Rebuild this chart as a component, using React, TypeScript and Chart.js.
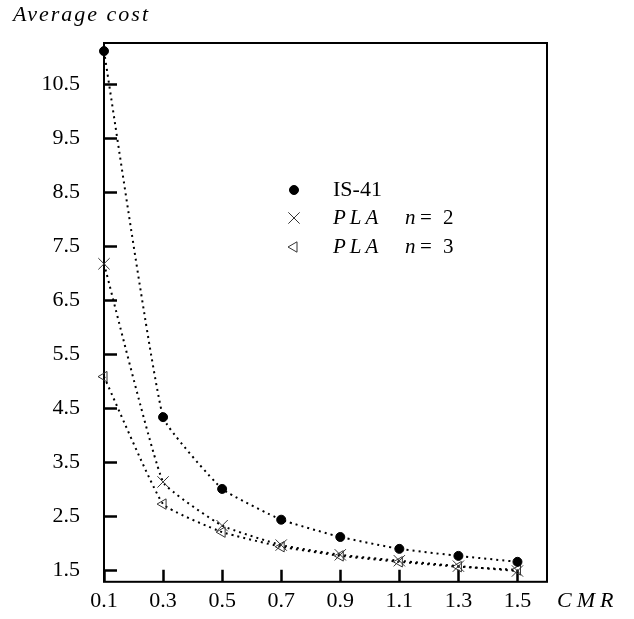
import React, { useEffect, useRef } from 'react';
import { Chart, registerables } from 'chart.js';
import { drawPoint } from 'chart.js/helpers';

Chart.register(...registerables);

const cmr = [0.1, 0.3, 0.5, 0.7, 0.9, 1.1, 1.3, 1.5];
const is41 = [11.11, 4.33, 3.0, 2.43, 2.11, 1.89, 1.76, 1.65];
const pla2 = [7.17, 3.13, 2.32, 1.96, 1.78, 1.67, 1.57, 1.48];
const pla3 = [5.08, 2.72, 2.2, 1.93, 1.76, 1.65, 1.56, 1.5];

const xTicks = [0.1, 0.3, 0.5, 0.7, 0.9, 1.1, 1.3, 1.5];
const xTickLabels = ['0.1', '0.3', '0.5', '0.7', '0.9', '1.1', '1.3', '1.5'];
const yTicks = [1.5, 2.5, 3.5, 4.5, 5.5, 6.5, 7.5, 8.5, 9.5, 10.5];
const yTickLabels = ['1.5', '2.5', '3.5', '4.5', '5.5', '6.5', '7.5', '8.5', '9.5', '10.5'];

const legendMain = ['IS-41', 'PLA', 'PLA'];
const legendN = ['', '2', '3'];
const yTitle = 'Average cost';
const xTitle = 'CMR';

const SERIF = '"Liberation Serif", "Times New Roman", serif';

const decorPlugin = {
  id: 'decor',
  beforeDatasetsDraw(chart: any) {
    const { ctx, chartArea: a, scales } = chart;
    ctx.save();
    ctx.strokeStyle = '#000';
    ctx.lineWidth = 2;
    ctx.strokeRect(a.left, a.top, a.right - a.left, a.bottom - a.top);
    ctx.lineWidth = 2.5;
    ctx.beginPath();
    yTicks.forEach((v) => {
      const y = Math.round(scales.y.getPixelForValue(v)) + 0.5;
      ctx.moveTo(a.left, y);
      ctx.lineTo(a.left + 13, y);
    });
    xTicks.forEach((v) => {
      const x = Math.round(scales.x.getPixelForValue(v)) + 0.5;
      ctx.moveTo(x, a.bottom);
      ctx.lineTo(x, a.bottom - 12);
    });
    ctx.stroke();
    ctx.restore();
  },
  afterDraw(chart: any) {
    const { ctx, chartArea: a } = chart;
    ctx.save();
    ctx.fillStyle = '#000';
    ctx.textBaseline = 'alphabetic';
    ctx.textAlign = 'left';
    // axis titles
    ctx.font = `italic 22px ${SERIF}`;
    (ctx as any).letterSpacing = '2px';
    ctx.fillText(yTitle, 13, 21);
    (ctx as any).letterSpacing = '5px';
    ctx.fillText(xTitle, a.right + 10, 607);
    (ctx as any).letterSpacing = '0px';

    // legend
    const mx = a.left + 190;
    const tx = a.left + 229;
    const baselines = [196, 224, 253];
    chart.data.datasets.forEach((ds: any, i: number) => {
      const by = baselines[i];
      ctx.save();
      ctx.fillStyle = ds.pointBackgroundColor;
      ctx.strokeStyle = ds.pointBorderColor;
      ctx.lineWidth = ds.pointBorderWidth;
      drawPoint(ctx, {
        pointStyle: ds.pointStyle,
        rotation: ds.pointRotation || 0,
        radius: ds.pointRadius,
        borderWidth: ds.pointBorderWidth,
      } as any, mx, by - 6);
      ctx.restore();
      ctx.fillStyle = '#000';
      if (i === 0) {
        ctx.font = `22px ${SERIF}`;
        ctx.fillText(legendMain[i], tx, by);
      } else {
        ctx.font = `italic 21px ${SERIF}`;
        (ctx as any).letterSpacing = '4px';
        ctx.fillText(legendMain[i], tx, by);
        (ctx as any).letterSpacing = '0px';
        const nx = tx + 72;
        ctx.fillText('n', nx, by);
        ctx.font = `21px ${SERIF}`;
        ctx.fillText('=', nx + 15, by);
        ctx.fillText(legendN[i], nx + 38, by);
      }
    });
    ctx.restore();
  },
};

export default function App() {
  const ref = useRef<HTMLCanvasElement>(null);
  useEffect(() => {
    if (!ref.current) return;
    const line = {
      borderColor: '#000',
      borderWidth: 2,
      borderDash: [2, 4],
      tension: 0.12,
      clip: false as any,
    };
    const chart = new Chart(ref.current, {
      type: 'line',
      data: {
        datasets: [
          {
            ...line,
            label: 'IS-41',
            data: cmr.map((x, i) => ({ x, y: is41[i] })),
            pointStyle: 'circle',
            pointRadius: 4.5,
            pointBackgroundColor: '#000',
            pointBorderColor: '#000',
            pointBorderWidth: 1,
          },
          {
            ...line,
            label: 'PLA n = 2',
            data: cmr.map((x, i) => ({ x, y: pla2[i] })),
            pointStyle: 'crossRot',
            pointRadius: 8,
            pointBackgroundColor: 'rgba(0,0,0,0)',
            pointBorderColor: '#333',
            pointBorderWidth: 1,
          },
          {
            ...line,
            label: 'PLA n = 3',
            data: cmr.map((x, i) => ({ x, y: pla3[i] })),
            pointStyle: 'triangle',
            pointRotation: -90,
            pointRadius: 6,
            pointBackgroundColor: 'rgba(0,0,0,0)',
            pointBorderColor: '#333',
            pointBorderWidth: 1,
          },
        ] as any,
      },
      options: {
        animation: false,
        responsive: false,
        events: [],
        layout: { padding: { left: 0, top: 43, right: 87, bottom: 0 } },
        plugins: { legend: { display: false }, tooltip: { enabled: false }, title: { display: false } },
        scales: {
          x: {
            type: 'linear',
            min: 0.1,
            max: 1.6,
            grid: { display: false, drawTicks: false },
            border: { display: false },
            afterBuildTicks: (s: any) => {
              s.ticks = xTicks.map((v) => ({ value: v }));
            },
            afterFit: (s: any) => {
              s.height = 36;
            },
            ticks: {
              autoSkip: false,
              maxRotation: 0,
              padding: 6,
              color: '#000',
              font: { family: SERIF, size: 22 },
              callback: (_v: any, i: number) => xTickLabels[i],
            },
          },
          y: {
            type: 'linear',
            min: 1.28,
            max: 11.26,
            grid: { display: false, drawTicks: false },
            border: { display: false },
            afterBuildTicks: (s: any) => {
              s.ticks = yTicks.map((v) => ({ value: v }));
            },
            afterFit: (s: any) => {
              s.width = 104;
            },
            ticks: {
              autoSkip: false,
              padding: 24,
              color: '#000',
              font: { family: SERIF, size: 22 },
              callback: (_v: any, i: number) => yTickLabels[i],
            },
          },
        },
      },
      plugins: [decorPlugin],
    });
    return () => chart.destroy();
  }, []);
  return (
    <div style={{ position: 'absolute', left: 0, top: 0, width: 634, height: 619, background: '#fff' }}>
      <canvas ref={ref} width={634} height={619} style={{ display: 'block' }} />
    </div>
  );
}
